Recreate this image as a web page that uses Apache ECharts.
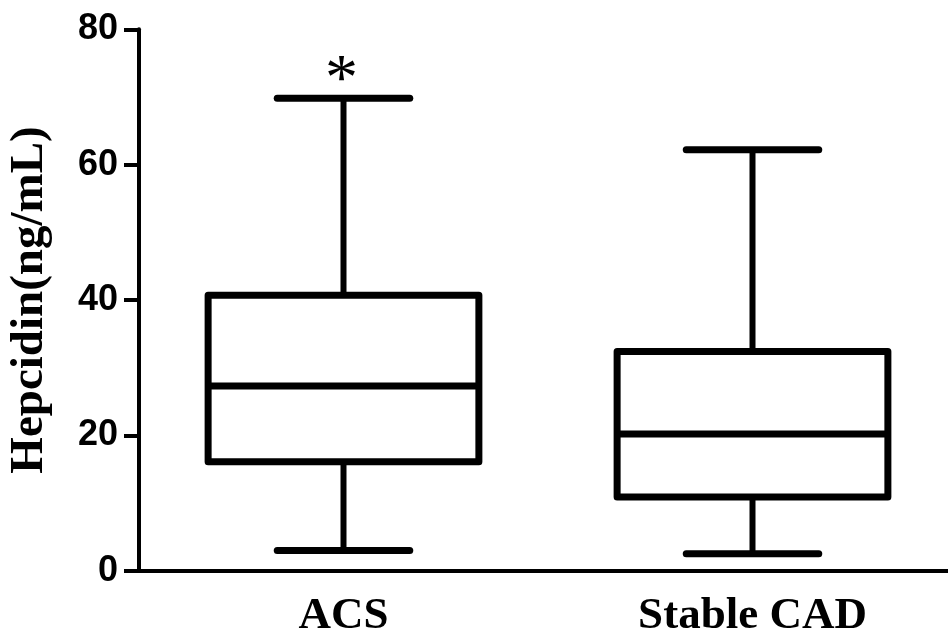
<!DOCTYPE html>
<html>
<head>
<meta charset="utf-8">
<script src="https://cdn.jsdelivr.net/npm/echarts@6/dist/echarts.min.js"></script>
<style>html,body{margin:0;padding:0;background:#fff}#c{width:948px;height:632px}</style>
</head>
<body>
<div id="c"></div>
<script>
const categories = ['ACS', 'Stable CAD'];
const mins = [3.0, 2.5];
const q1s = [16.1, 10.9];
const medians = [27.3, 20.2];
const q3s = [40.7, 32.4];
const maxs = [69.8, 62.2];
const annotations = ['*', ''];
const yTicks = [0, 20, 40, 60, 80];

const data = categories.map((c, i) => [i, mins[i], q1s[i], medians[i], q3s[i], maxs[i]]);

const chart = echarts.init(document.getElementById('c'), null, {renderer: 'canvas'});

function renderItem(params, api) {
  const idx = api.value(0);
  const pMin = api.coord([idx, api.value(1)]);
  const pQ1 = api.coord([idx, api.value(2)]);
  const pMed = api.coord([idx, api.value(3)]);
  const pQ3 = api.coord([idx, api.value(4)]);
  const pMax = api.coord([idx, api.value(5)]);
  const band = api.size([1, 0])[0];
  const hb = band * 0.331;
  const hc = band * 0.162;
  const cx = pMed[0];
  const st = {stroke: '#000', fill: null, lineWidth: 7, lineJoin: 'round'};
  const wst = {stroke: '#000', lineWidth: 6};
  const cst = {stroke: '#000', lineWidth: 7, lineCap: 'round'};
  const children = [
    {type: 'line', shape: {x1: cx, y1: pQ3[1], x2: cx, y2: pMax[1]}, style: wst},
    {type: 'line', shape: {x1: cx, y1: pQ1[1], x2: cx, y2: pMin[1]}, style: wst},
    {type: 'line', shape: {x1: cx - hc, y1: pMax[1], x2: cx + hc, y2: pMax[1]}, style: cst},
    {type: 'line', shape: {x1: cx - hc, y1: pMin[1], x2: cx + hc, y2: pMin[1]}, style: cst},
    {type: 'rect', shape: {x: cx - hb, y: pQ3[1], width: hb * 2, height: pQ1[1] - pQ3[1]}, style: st},
    {type: 'line', shape: {x1: cx - hb, y1: pMed[1], x2: cx + hb, y2: pMed[1]}, style: {stroke: '#000', lineWidth: 7}}
  ];
  const ann = annotations[idx];
  if (ann) {
    children.push({type: 'text', style: {text: ann, x: cx - 2, y: pMax[1] + 16, align: 'center', verticalAlign: 'bottom',
      fontFamily: 'Liberation Serif', fontSize: 66, fill: '#000'}});
  }
  return {type: 'group', children};
}

chart.setOption({
  animation: false,
  backgroundColor: '#fff',
  grid: {left: 139, width: 818, top: 29.3, bottom: 61.3, containLabel: false, outerBoundsMode: 'none'},
  xAxis: {
    type: 'category',
    data: categories,
    boundaryGap: true,
    axisLine: {lineStyle: {color: '#000', width: 4}},
    axisTick: {alignWithLabel: true, length: 14, lineStyle: {color: '#000', width: 4}},
    axisLabel: {color: '#000', fontFamily: 'Liberation Serif', fontWeight: 'bold', fontSize: 45, margin: 23},
    splitLine: {show: false}
  },
  yAxis: {
    type: 'value',
    min: 0, max: 80, interval: 20,
    name: 'Hepcidin(ng/mL)',
    nameLocation: 'middle',
    nameRotate: 90,
    nameGap: 86,
    nameTextStyle: {color: '#000', fontFamily: 'Liberation Serif', fontWeight: 'bold', fontSize: 47},
    axisLine: {show: true, lineStyle: {color: '#000', width: 4}},
    axisTick: {show: true, length: 15, lineStyle: {color: '#000', width: 4}},
    axisLabel: {color: '#000', fontFamily: 'Liberation Sans', fontWeight: 'bold', fontSize: 36, margin: 21,
      formatter: v => yTicks.includes(v) ? String(v) : ''},
    splitLine: {show: false}
  },
  series: [{
    type: 'custom',
    renderItem: renderItem,
    data: data,
    encode: {x: 0, y: [1, 2, 3, 4, 5]},
    clip: false
  }]
});
</script>
</body>
</html>
